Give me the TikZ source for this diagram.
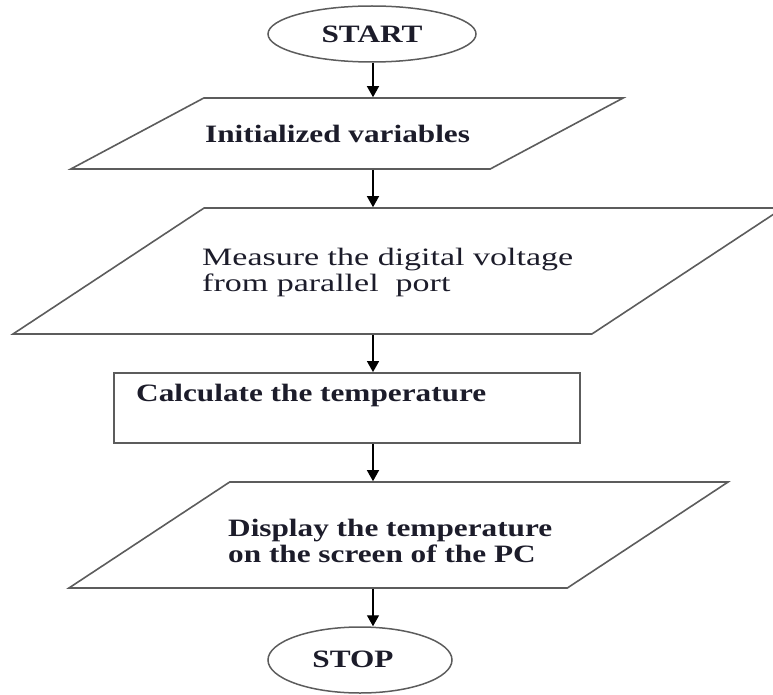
\documentclass[tikz,border=0pt]{standalone}
\usepackage{fontspec}
\setmainfont{Liberation Serif}[FakeStretch=1.36,BoldFeatures={FakeStretch=1.25}]
\usetikzlibrary{arrows.meta,shapes.geometric}
\definecolor{edgegray}{HTML}{5C5C5C}
\definecolor{inkblue}{HTML}{1C1C2A}
\tikzset{
  flowarr/.style   = {-{Triangle[length=11pt,width=12pt]},line width=1.4pt,black},
  flowtext/.style  = {font=\fontsize{25}{26}\selectfont,text=inkblue,inner sep=0pt,align=left},
  termshape/.style = {ellipse,draw=edgegray,line width=1.5pt,inner sep=0pt,flowtext},
  procshape/.style = {rectangle,draw=edgegray,line width=1.8pt,inner sep=0pt},
  ioshape/.style   = {trapezium,draw=edgegray,line width=1.6pt}
}

\begin{document}
\begin{tikzpicture}[x=1pt,y=-1pt]
  \useasboundingbox (0,0) rectangle (773,695);
  \clip (0,0) rectangle (773,695);
  \coordinate (spine) at (373,0);
  \node[termshape,minimum width=208pt,minimum height=56pt] (start) at (372,34) {\bfseries START};
  \node[ioshape,inner xsep=143.2pt,inner ysep=35.5pt,
        trapezium left angle=28.1,trapezium right angle=151.9] (init) at (347,133.5) {};
  \node[flowtext,anchor=west] (inittext) at (205,133.5) {\bfseries Initialized variables};
  \node[ioshape,inner xsep=193.9pt,inner ysep=63pt,
        trapezium left angle=33.4,trapezium right angle=146.6] (measure) at (398,271) {};
  \node[flowtext,anchor=west] (measuretext) at (202,272)
        {Measure the digital voltage\\from parallel\ \ port};
  \node[procshape,minimum width=466pt,minimum height=70pt] (calc) at (347,408) {};
  \node[flowtext,anchor=west] (calctext) at (136,395) {\bfseries Calculate the temperature};
  \node[ioshape,inner xsep=168.8pt,inner ysep=53pt,
        trapezium left angle=33.4,trapezium right angle=146.6] (display) at (398.5,535) {};
  \node[flowtext,anchor=west] (displaytext) at (228,541)
        {\bfseries Display the temperature\\\bfseries on the screen of the PC};
  \node[termshape,minimum width=184pt,minimum height=66pt] (stop) at (360,660) {};
  \node[flowtext] (stoptext) at (353,659) {\bfseries STOP};
  \draw[flowarr] (start.south -| spine) -- (init.north -| spine);
  \draw[flowarr] (init.south -| spine) -- (measure.north -| spine);
  \draw[flowarr] (measure.south -| spine) -- (calc.north -| spine);
  \draw[flowarr] (calc.south -| spine) -- (display.north -| spine);
  \draw[flowarr] (display.south -| spine) -- (stop.north -| spine);
\end{tikzpicture}
\end{document}
